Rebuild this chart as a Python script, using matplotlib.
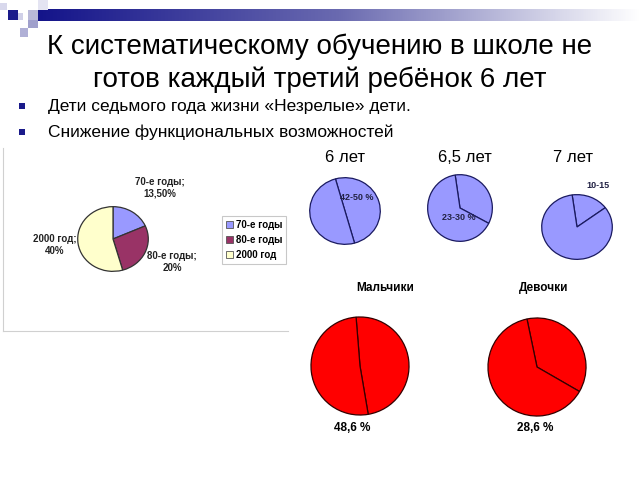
import numpy as np
import matplotlib
matplotlib.use("Agg")
import matplotlib.pyplot as plt
from matplotlib.patches import Rectangle

plt.rcParams["font.family"] = ["Liberation Sans", "DejaVu Sans"]

W, H = 640, 480

# данные
decades = ["70-е годы", "80-е годы", "2000 год"]
decade_values = [13.5, 20, 40]
decade_labels = ["70-е годы;\n13,50%", "80-е годы;\n20%", "2000 год;\n40%"]
decade_colors = ["#9999FF", "#993366", "#FFFFCC"]

ages = ["6 лет", "6,5 лет", "7 лет"]
age_values = [[50, 50], [35, 65], [17, 83]]
age_labels = ["42-50 %", "23-30 %", "10-15"]

sexes = ["Мальчики", "Девочки"]
sex_values = [[48.6, 51.4], [36.6, 63.4]]
sex_labels = ["48,6 %", "28,6 %"]

title = "К систематическому обучению в школе не\nготов каждый третий ребёнок 6 лет"
bullets = ["Дети седьмого года жизни «Незрелые» дети.",
           "Снижение функциональных возможностей"]


def px_axes(fig, cx, cy, rx, ry):
    # оси по пиксельным координатам (y сверху)
    return fig.add_axes([(cx - rx) / W, 1 - (cy + ry) / H, 2 * rx / W, 2 * ry / H])


def draw_pie(ax, vals, colors, start, edge):
    ax.pie(vals, colors=colors, startangle=start, counterclock=False,
           wedgeprops=dict(edgecolor=edge, linewidth=0.9))
    ax.set_aspect("auto")
    ax.set_xlim(-1.02, 1.02)
    ax.set_ylim(-1.02, 1.02)
    ax.axis("off")


fig = plt.figure(figsize=(6.4, 4.8), dpi=100)
fig.patch.set_facecolor("white")
tr = fig.transFigure


def rect(x, y, w, h, color, **kw):
    fig.patches.append(Rectangle((x / W, 1 - (y + h) / H), w / W, h / H,
                                 transform=tr, facecolor=color, edgecolor="none", **kw))


# декоративная шапка
grad = fig.add_axes([38 / W, 1 - 21 / H, (W - 38) / W, 12 / H])
g = np.linspace(0, 1, 256).reshape(1, -1)
cmap = matplotlib.colors.LinearSegmentedColormap.from_list("hdr", ["#14148a", "#6a6ab0", "#ffffff"])
grad.imshow(g, aspect="auto", cmap=cmap)
grad.axis("off")
rect(0, 3, 7, 7, "#d8d8ec")
rect(8, 10, 10, 10, "#1a1a8a")
rect(18, 13, 5, 7, "#d0d0e8")
rect(28, 10, 10, 10, "#b8b8d8")
rect(38, 0, 10, 10, "#e4e4f2")
rect(28, 20, 10, 8, "#a0a0cc")
rect(20, 28, 8, 9, "#b0b0d6")

fig.text(320 / W, 1 - 63 / H, title, ha="center", va="center", fontsize=20,
         linespacing=1.3, color="black")
for i, b in enumerate(bullets):
    y = 106 + 26 * i
    rect(19, y - 3, 6, 6, "#1a1a8a")
    fig.text(48 / W, 1 - y / H, b, ha="left", va="center", fontsize=12.5)

# левая диаграмма в рамке
box = fig.add_axes([3 / W, 1 - 331 / H, 285 / W, 183 / H])
box.set_xticks([])
box.set_yticks([])
for s in ["top", "right"]:
    box.spines[s].set_visible(False)
for s in ["left", "bottom"]:
    box.spines[s].set_color("#d0d0d0")

ax0 = px_axes(fig, 113, 239, 36, 33)
draw_pie(ax0, decade_values, decade_colors, 90, "#333333")
lab_pos = [(160, 188), (172, 262), (55, 245)]
for (x, y), t in zip(lab_pos, decade_labels):
    fig.text(x / W, 1 - y / H, t, ha="center", va="center", fontsize=7,
             fontweight="bold", color="#222222", linespacing=1.2)
handles = [Rectangle((0, 0), 1, 1, facecolor=c, edgecolor="#555555", linewidth=0.6)
           for c in decade_colors]
leg = fig.legend(handles, decades, loc="center", bbox_to_anchor=(254 / W, 1 - 240 / H),
                 prop=dict(size=7, weight="bold"), handlelength=0.7, handleheight=0.7,
                 handletextpad=0.3, labelspacing=0.5, borderpad=0.4, fancybox=False,
                 frameon=True, edgecolor="#bbbbbb")
leg.get_frame().set_linewidth(0.8)

# возраст
age_geo = [(345, 211, 36, 34, 105.7), (460, 208, 33, 34, 98.6), (577, 227, 36, 33, 97.9)]
title_x = [345, 465, 573]
lab_xy = [(357, 198), (459, 217), (598, 185)]
for i, (cx, cy, rx, ry, st) in enumerate(age_geo):
    a = px_axes(fig, cx, cy, rx, ry)
    draw_pie(a, age_values[i], ["#9999FF", "#9999FF"], st, "#1a1a60")
    fig.text(title_x[i] / W, 1 - 158 / H, ages[i], ha="center", va="center", fontsize=12)
    fig.text(lab_xy[i][0] / W, 1 - lab_xy[i][1] / H, age_labels[i], ha="center",
             va="center", fontsize=6.5, fontweight="bold", color="#222244")

# мальчики / девочки
sex_geo = [(360, 366, 50, 50, 94.6), (537, 367, 50, 50, 101.8)]
sex_title_x = [385, 544]
sex_lab_x = [352, 535]
for i, (cx, cy, rx, ry, st) in enumerate(sex_geo):
    a = px_axes(fig, cx, cy, rx, ry)
    draw_pie(a, sex_values[i], ["#FF0000", "#FF0000"], st, "#330000")
    fig.text(sex_title_x[i] / W, 1 - 288 / H, sexes[i], ha="center", va="center",
             fontsize=8.5, fontweight="bold")
    fig.text(sex_lab_x[i] / W, 1 - 428 / H, sex_labels[i], ha="center", va="center",
             fontsize=8.5, fontweight="bold")

fig.savefig("out.png", dpi=100)
